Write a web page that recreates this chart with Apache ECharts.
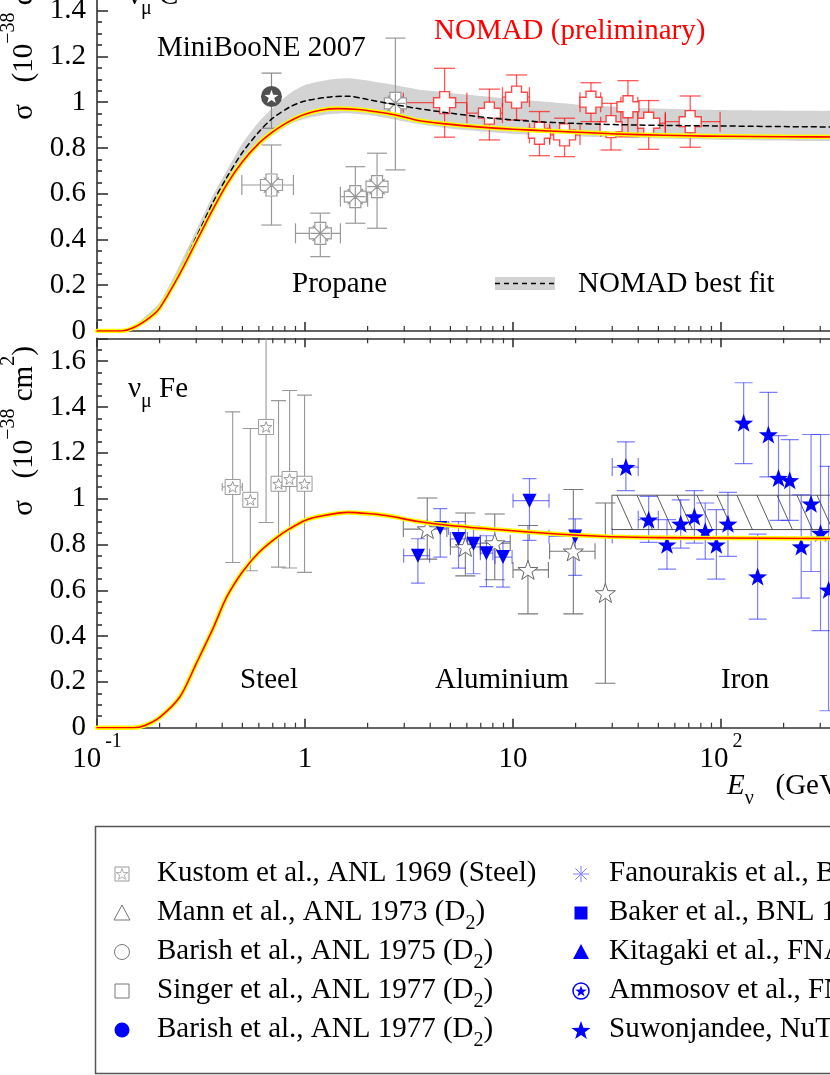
<!DOCTYPE html>
<html><head><meta charset="utf-8">
<script src="https://cdn.jsdelivr.net/npm/echarts@6/dist/echarts.min.js"></script>
<style>
html,body{margin:0;padding:0;overflow:hidden;background:#fff;width:830px;height:1075px}
#c{position:absolute;left:0;top:-60px;width:1000px;height:1135px}
</style></head><body><div id="c"></div>
<script>
// ================= DATA =================
const xTickExp  = [-1, 0, 1, 2, 3];
const xTickText = [['10','-1'], ['1',''], ['10',''], ['10','2'], ['10','3']];

// Carbon (top) theory curve
const theoryC_E = [0.1,0.13,0.15,0.18,0.2,0.25,0.3,0.36,0.42,0.5,0.6,0.7,0.8,0.9,1.0,1.2,1.45,1.8,2.2,2.7,3.5,5,7,10,15,25,40,70,100,200,400,1000];
const theoryC_S = [0,0,0.015,0.06,0.1,0.25,0.39,0.53,0.64,0.74,0.82,0.87,0.905,0.93,0.947,0.966,0.972,0.968,0.958,0.945,0.92,0.903,0.891,0.882,0.874,0.865,0.858,0.853,0.851,0.849,0.848,0.847];

// NOMAD best fit (dashed) and its band
const nomadFitE  = [0.1,0.13,0.15,0.2,0.25,0.3,0.36,0.42,0.5,0.6,0.7,0.85,1.0,1.3,1.6,2.0,2.5,3.5,5,8,12,20,40,100,300,1000];
const nomadFit   = [0,0,0.016,0.105,0.26,0.41,0.56,0.67,0.78,0.87,0.93,0.98,1.005,1.022,1.026,1.012,0.995,0.972,0.952,0.93,0.917,0.907,0.9,0.896,0.892,0.89];
const nomadBandHi= [0,0.003,0.022,0.125,0.29,0.44,0.59,0.70,0.82,0.915,0.975,1.04,1.075,1.098,1.105,1.095,1.08,1.055,1.04,1.022,1.008,0.99,0.975,0.966,0.962,0.96];
const nomadBandLo= [0,0,0.008,0.09,0.235,0.375,0.515,0.625,0.725,0.805,0.855,0.905,0.928,0.947,0.952,0.945,0.93,0.905,0.885,0.868,0.858,0.85,0.842,0.835,0.83,0.828];

// Iron (bottom) theory curve
const theoryFe_E = [0.1,0.15,0.17,0.2,0.25,0.3,0.36,0.42,0.5,0.6,0.73,0.85,1.0,1.2,1.6,2.0,2.5,3.5,5,8.7,15,26,50,100,300,1000];
const theoryFe_S = [0,0,0.01,0.045,0.134,0.28,0.43,0.57,0.68,0.765,0.83,0.87,0.905,0.924,0.94,0.935,0.925,0.9,0.883,0.864,0.848,0.836,0.83,0.828,0.826,0.825];

// rows: [E, sigma, sigmaLow, sigmaHigh, Elow, Ehigh]
const propane = [
  [0.69, 0.638, 0.463, 0.813, 0.497, 0.88],
  [1.185, 0.427, 0.325, 0.515, 0.9, 1.48],
  [1.746, 0.587, 0.471, 0.718, 1.48, 2.0],
  [2.22, 0.631, 0.449, 0.777],
  [2.72, 0.995, 0.704, 1.28]
];
const miniboone = [[0.69, 1.025, 0.886, 1.127]];
const nomad = [
  [4.69, 0.998, 0.847, 1.148, 2.97, 6.0],
  [7.7, 0.952, 0.835, 1.057, 6.0, 8.9],
  [10.4, 1.022, 0.922, 1.119, 8.9, 12.0],
  [13.4, 0.864, 0.766, 0.959, 12.0, 15.0],
  [17.7, 0.857, 0.762, 0.93, 15.0, 21.0],
  [23.7, 1.0, 0.915, 1.085, 21.0, 26.4],
  [29.6, 0.893, 0.791, 0.995, 26.4, 33.0],
  [35.7, 0.98, 0.849, 1.094, 33.0, 39.8],
  [44.9, 0.908, 0.794, 1.007, 39.8, 54.0],
  [71.1, 0.915, 0.803, 1.027, 54.0, 99.0]
];
const kustom = [
  [0.449, 1.051, 0.721, 1.379, 0.4, 0.5],
  [0.546, 0.995, 0.685, 1.306],
  [0.65, 1.313, 0.896, 1.73],
  [0.746, 1.065, 0.701, 1.428],
  [0.843, 1.086, 0.697, 1.472],
  [0.995, 1.065, 0.678, 1.452]
];
const alStars = [
  [3.87, 0.867, 0.736, 1.003, 2.97, 4.81],
  [5.9, 0.789, 0.663, 0.937, 5.0, 6.97],
  [8.17, 0.806, 0.646, 0.933, 6.97, 9.7],
  [11.8, 0.689, 0.497, 0.883, 10.0, 14.8],
  [19.5, 0.77, 0.497, 1.04, 15.0, 24.8],
  [27.8, 0.588, 0.194, 0.981]
];
const downTriangles = [
  [3.49, 0.751, 0.631, 0.825, 2.98, 3.97],
  [4.47, 0.872, 0.745, 0.956, 4.04, 4.9],
  [5.47, 0.824, 0.697, 0.9, 5.0, 6.04],
  [6.46, 0.803, 0.672, 0.879, 6.04, 6.97],
  [7.45, 0.762, 0.616, 0.838, 6.97, 8.0],
  [8.95, 0.745, 0.614, 0.813, 8.2, 9.9],
  [12.0, 0.991, 0.818, 1.087, 10.0, 14.9],
  [19.9, 0.835, 0.665, 0.912, 14.9, 30.0]
];
const blueStars = [
  [34.9, 1.138, 1.035, 1.248, 30.0, 40.0],
  [44.9, 0.908, 0.809, 1.01, 40.0, 50.0],
  [55, 0.799, 0.692, 0.908],
  [64, 0.89, 0.784, 0.995],
  [74.5, 0.922, 0.806, 1.035],
  [84, 0.857, 0.736, 0.981],
  [95, 0.799, 0.649, 0.952],
  [108, 0.89, 0.748, 1.027],
  [128.5, 1.331, 1.153, 1.506],
  [150, 0.66, 0.474, 0.845],
  [169, 1.28, 1.095, 1.464],
  [189, 1.09, 0.905, 1.275],
  [214, 1.08, 0.905, 1.258],
  [243, 0.791, 0.566, 1.017],
  [271, 0.978, 0.682, 1.28],
  [301, 0.85, 0.424, 1.28],
  [329, 0.602, 0.074, 1.141]
];
// hatched box: [Emin, Emax, sigmaMin, sigmaMax]
const hatchBox = [29.9, 400, 0.865, 1.015];

const legendCol1 = [['Kustom et al., ANL 1969 (Steel)', ''], ['Mann et al., ANL 1973 (D', '2'], ['Barish et al., ANL 1975 (D', '2'], ['Singer et al., ANL 1977 (D', '2'], ['Barish et al., ANL 1977 (D', '2']];
const legendCol2 = [['Fanourakis et al., BNL 1980 (D', '2'], ['Baker et al., BNL 1981 (D', '2'], ['Kitagaki et al., FNAL 1983 (D', '2'], ['Ammosov et al., FNAL 1988 (Ne', ''], ['Suwonjandee, NuTeV 2004 (Fe', '']];

// ================= HELPERS =================
const OFF = 60;
const FONT = '"Liberation Serif", "Times New Roman", serif';
const Y_MAX = 1.7;
const xMinorTicks = [];
for (let k = -1; k <= 2; k++) for (let m = 2; m <= 9; m++) xMinorTicks.push([m * Math.pow(10, k), 0]);

function starPath(R, r, cx, cy) {
  let s = '';
  for (let k = 0; k < 10; k++) {
    const a = -Math.PI / 2 + k * Math.PI / 5, rad = (k % 2) ? r : R;
    s += (k ? 'L' : 'M') + (cx + rad * Math.cos(a)).toFixed(3) + ',' + (cy + rad * Math.sin(a)).toFixed(3);
  }
  return s + 'Z';
}
function starPoints(cx, cy, R) {
  const p = [];
  for (let k = 0; k < 10; k++) {
    const a = -Math.PI / 2 + k * Math.PI / 5, rad = (k % 2) ? R * 0.4 : R;
    p.push([cx + rad * Math.cos(a), cy + rad * Math.sin(a)]);
  }
  return p;
}
const STAR = 'path://' + starPath(1, 0.4, 0, 0);
const SQSTAR = 'path://M-1,-1L1,-1L1,1L-1,1Z' + starPath(0.8, 0.33, 0, 0.08);
const PLUS = 'path://M-0.45,-1L0.45,-1L0.45,-0.45L1,-0.45L1,0.45L0.45,0.45L0.45,1L-0.45,1L-0.45,0.45L-1,0.45L-1,-0.45L-0.45,-0.45Z';
const PLUSAST = 'path://M-0.5,-1L0.5,-1L0.5,-0.5L1,-0.5L1,0.5L0.5,0.5L0.5,1L-0.5,1L-0.5,0.5L-1,0.5L-1,-0.5L-0.5,-0.5Z' +
  'M-0.7,-0.7L0.7,0.7M-0.7,0.7L0.7,-0.7M0,-0.9L0,0.9M-0.9,0L0.9,0';

function pairs(xs, ys) { return xs.map((x, i) => [x, ys[i]]); }

function errRender(color, capW, capH, lw) {
  return function (params, api) {
    const x = api.value(0), y = api.value(1);
    const ylo = api.value(2), yhi = api.value(3), xlo = api.value(4), xhi = api.value(5);
    const c = api.coord([x, y]);
    const st = { stroke: color, lineWidth: lw, fill: null };
    const ch = [];
    const L = (x1, y1, x2, y2) => ch.push({ type: 'line', shape: { x1, y1, x2, y2 }, style: st });
    if (yhi > ylo) {
      const a = api.coord([x, yhi]), b = api.coord([x, ylo]);
      L(c[0], a[1], c[0], b[1]);
      L(c[0] - capW / 2, a[1], c[0] + capW / 2, a[1]);
      L(c[0] - capW / 2, b[1], c[0] + capW / 2, b[1]);
    }
    if (xhi > xlo) {
      const a = api.coord([xlo, y]), b = api.coord([xhi, y]);
      L(a[0], c[1], b[0], c[1]);
      if (capH) {
        L(a[0], c[1] - capH / 2, a[0], c[1] + capH / 2);
        L(b[0], c[1] - capH / 2, b[0], c[1] + capH / 2);
      }
    }
    return { type: 'group', children: ch };
  };
}
function errSeries(grid, data, color, capW, capH, lw) {
  return { type: 'custom', xAxisIndex: grid === 0 ? 0 : 1, yAxisIndex: grid, clip: true,
    encode: { x: 0, y: 1 }, data: data, renderItem: errRender(color, capW, capH, lw), silent: true };
}
function markSeries(grid, data, symbol, size, fill, stroke, bw, extra) {
  return Object.assign({ type: 'scatter', xAxisIndex: grid === 0 ? 0 : 1, yAxisIndex: grid,
    encode: { x: 0, y: 1 }, data: data, symbol: symbol, symbolSize: size, symbolKeepAspect: true,
    itemStyle: { color: fill, borderColor: stroke, borderWidth: bw, opacity: 1 }, silent: true }, extra || {});
}
function bandSeries(grid, xs, lo, hi, color) {
  return { type: 'custom', xAxisIndex: grid === 0 ? 0 : 1, yAxisIndex: grid, clip: true, silent: true,
    data: [[1, 0.5]],
    renderItem: function (p, api) {
      const pts = [];
      for (let i = 0; i < xs.length; i++) pts.push(api.coord([xs[i], hi[i]]));
      for (let i = xs.length - 1; i >= 0; i--) pts.push(api.coord([xs[i], lo[i]]));
      return { type: 'polygon', shape: { points: pts, smooth: 0.2 }, style: { fill: color, stroke: null } };
    } };
}
function minorTickSeries(grid, top) {
  return { type: 'custom', xAxisIndex: grid === 0 ? 0 : 1, yAxisIndex: grid, silent: true, clip: false,
    data: xMinorTicks,
    renderItem: function (p, api) {
      const x = api.value(0);
      const b = api.coord([x, 0]), t = api.coord([x, Y_MAX]);
      const st = { stroke: '#333', lineWidth: 1.2 };
      const ch = [{ type: 'line', shape: { x1: b[0], y1: b[1], x2: b[0], y2: b[1] - 5 }, style: st }];
      if (top) ch.push({ type: 'line', shape: { x1: t[0], y1: t[1], x2: t[0], y2: t[1] + 5 }, style: st });
      return { type: 'group', children: ch };
    } };
}
function lineSeries(grid, data, color, width, dash) {
  return { type: 'line', xAxisIndex: grid === 0 ? 0 : 1, yAxisIndex: grid, data: data, showSymbol: false, symbol: 'none',
    smooth: 0.3, silent: true,
    lineStyle: { color: color, width: width, type: dash || 'solid', cap: 'round', join: 'round' } };
}

// ================= AXES =================
const axisLineStyle = { color: '#333', width: 1.6 };
function xAxisDef(grid, pos, labels) {
  return {
    type: 'log', logBase: 10, min: 0.1, max: 1000, gridIndex: grid, position: pos,
    axisLine: { show: true, onZero: false, lineStyle: axisLineStyle },
    axisTick: { show: true, inside: true, length: 9, lineStyle: axisLineStyle },
    minorTick: { show: false }, splitLine: { show: false },
    axisLabel: labels ? {
      show: true, margin: 4,
      formatter: function (v) {
        const e = Math.round(Math.log10(v)); const t = xTickText[xTickExp.indexOf(e)];
        if (!t) return '';
        return t[1] ? '{b|' + t[0] + '}{s|' + t[1] + '}' : '{b|' + t[0] + '}';
      },
      rich: {
        b: { fontFamily: FONT, fontSize: 29, color: '#000', padding: [13, 0, 0, 0] },
        s: { fontFamily: FONT, fontSize: 20, color: '#000', verticalAlign: 'top', padding: [0, 0, 0, 4] }
      }
    } : { show: false }
  };
}
function yAxisDef(grid) {
  return {
    type: 'value', gridIndex: grid, min: 0, max: Y_MAX, interval: 0.2,
    axisLine: { show: true, onZero: false, lineStyle: axisLineStyle },
    axisTick: { show: true, inside: true, length: 11, lineStyle: axisLineStyle },
    minorTick: { show: true, splitNumber: 4, length: 5, lineStyle: axisLineStyle },
    splitLine: { show: false },
    axisLabel: { show: true, margin: 11, showMaxLabel: false, fontFamily: FONT, fontSize: 29, color: '#000' }
  };
}

// ================= GRAPHICS (annotations, legend) =================
function txt(x, y, text, extra) {
  return { type: 'text', x: x, y: y + OFF, silent: true, z: 100,
    style: Object.assign({ text: text, fontFamily: FONT, fontSize: 29, fill: '#000', align: 'left', verticalAlign: 'middle' }, extra || {}) };
}
const richSub = {
  a: { fontFamily: FONT, fontSize: 29, fill: '#000', color: '#000', padding: [0, 0, 8, 0] },
  i: { fontFamily: FONT, fontSize: 29, fill: '#000', color: '#000', fontStyle: 'italic', padding: [0, 0, 8, 0] },
  s: { fontFamily: FONT, fontSize: 20, fill: '#000', color: '#000', verticalAlign: 'bottom' }
};
const richLeg = {
  a: { fontFamily: FONT, fontSize: 29, fill: '#000', color: '#000', padding: [0, 0, 7, 0] },
  s: { fontFamily: FONT, fontSize: 20, fill: '#000', color: '#000', verticalAlign: 'bottom' }
};
const richSup = {
  a: { fontFamily: FONT, fontSize: 29, fill: '#000', color: '#000', padding: [11, 0, 0, 0] },
  p: { fontFamily: FONT, fontSize: 20, fill: '#000', color: '#000', verticalAlign: 'top' }
};
const yTitle = '{a|σ   (10}{p|−38}{a| cm}{p|2}{a|)}';

const graphics = [
  txt(157, 48, 'MiniBooNE 2007'),
  txt(434, 31, 'NOMAD (preliminary)', { fill: '#ff0000' }),
  txt(292, 284, 'Propane'),
  { type: 'rect', x: 495, y: 277 + OFF, shape: { width: 60, height: 13 }, style: { fill: '#d3d3d3' }, z: 100 },
  { type: 'line', shape: { x1: 495, y1: 283.5 + OFF, x2: 555, y2: 283.5 + OFF }, style: { stroke: '#000', lineWidth: 1.5, lineDash: [5, 4] }, z: 101 },
  txt(578, 284, 'NOMAD best fit'),
  txt(240, 680, 'Steel'),
  txt(435, 680, 'Aluminium'),
  txt(721, 680, 'Iron'),
  txt(128, 393, '{a|ν}{s|μ}{a| Fe}', { rich: richSub }),
  txt(128, 0, '{a|ν}{s|μ}{a| C}', { rich: richSub }),
  txt(727, 790, '{i|E}{s|ν}{a|   (GeV)}', { rich: richSub }),
  Object.assign(txt(19, 431, yTitle, { rich: richSup, align: 'center' }), { rotation: Math.PI / 2 }),
  Object.assign(txt(19, 35, yTitle, { rich: richSup, align: 'center' }), { rotation: Math.PI / 2 }),
  { type: 'rect', x: 95.5, y: 826.5 + OFF, shape: { width: 1000, height: 247 }, style: { fill: 'none', stroke: '#555', lineWidth: 1.5 }, z: 100 }
];
const legRows = [874, 913, 952, 991, 1030];
const c1 = 122, c2 = 581;
legendCol1.forEach((e, i) => graphics.push(txt(157, legRows[i] + 3, e[1] ? '{a|' + e[0] + '}{s|' + e[1] + '}{a|)}' : '{a|' + e[0] + '}', { rich: richLeg })));
legendCol2.forEach((e, i) => graphics.push(txt(609, legRows[i] + 3, e[1] ? '{a|' + e[0] + '}{s|' + e[1] + '}{a|)}' : '{a|' + e[0] + ')}', { rich: richLeg })));
const gy = (i) => legRows[i] + OFF;
graphics.push(
  { type: 'rect', shape: { x: c1 - 7, y: gy(0) - 7, width: 14, height: 14 }, style: { fill: '#fff', stroke: '#999', lineWidth: 1 }, z: 100 },
  { type: 'polygon', shape: { points: starPoints(c1, gy(0) + 0.5, 6) }, style: { fill: 'none', stroke: '#999', lineWidth: 0.8 }, z: 101 },
  { type: 'polygon', shape: { points: [[c1, gy(1) - 8], [c1 + 8, gy(1) + 7], [c1 - 8, gy(1) + 7]] }, style: { fill: 'none', stroke: '#777', lineWidth: 1 }, z: 100 },
  { type: 'circle', shape: { cx: c1, cy: gy(2), r: 7.5 }, style: { fill: 'none', stroke: '#777', lineWidth: 1 }, z: 100 },
  { type: 'rect', shape: { x: c1 - 7, y: gy(3) - 7, width: 14, height: 14 }, style: { fill: 'none', stroke: '#777', lineWidth: 1 }, z: 100 },
  { type: 'circle', shape: { cx: c1, cy: gy(4), r: 7.5 }, style: { fill: '#0000ff' }, z: 100 },
  { type: 'group', z: 100, children: [0, 45, 90, 135].map(d => {
      const a = d * Math.PI / 180;
      return { type: 'line', shape: { x1: c2 - 8 * Math.cos(a), y1: gy(0) - 8 * Math.sin(a), x2: c2 + 8 * Math.cos(a), y2: gy(0) + 8 * Math.sin(a) }, style: { stroke: '#8080ff', lineWidth: 1 } };
    }) },
  { type: 'rect', shape: { x: c2 - 6.5, y: gy(1) - 6.5, width: 13, height: 13 }, style: { fill: '#0000ff' }, z: 100 },
  { type: 'polygon', shape: { points: [[c2, gy(2) - 8], [c2 + 8, gy(2) + 7], [c2 - 8, gy(2) + 7]] }, style: { fill: '#0000ff' }, z: 100 },
  { type: 'circle', shape: { cx: c2, cy: gy(3), r: 8 }, style: { fill: '#fff', stroke: '#0000ff', lineWidth: 1.5 }, z: 100 },
  { type: 'polygon', shape: { points: starPoints(c2, gy(3) + 0.5, 6) }, style: { fill: '#0000ff' }, z: 101 },
  { type: 'polygon', shape: { points: starPoints(c2, gy(4) + 1, 10) }, style: { fill: '#0000ff' }, z: 100 }
);

// ================= SERIES =================
const series = [
  // top panel
  bandSeries(0, nomadFitE, nomadBandLo, nomadBandHi, '#d3d3d3'),
  lineSeries(0, pairs(nomadFitE, nomadFit), '#000', 1.5, [5, 4]),
  lineSeries(0, pairs(theoryC_E, theoryC_S), '#ffff00', 4.5),
  lineSeries(0, pairs(theoryC_E, theoryC_S), '#ff0000', 1.6),
  minorTickSeries(0, false),
  errSeries(0, propane, '#999', 20, 20, 1.2),
  markSeries(0, propane, PLUSAST, 22, '#fff', '#999', 1.2),
  errSeries(0, miniboone, '#888', 20, 0, 1.2),
  markSeries(0, miniboone, 'circle', 21, '#505050', '#505050', 0),
  markSeries(0, miniboone, STAR, 14, '#fff', '#fff', 0),
  errSeries(0, nomad, 'rgba(255,0,0,0.65)', 21, 20, 1.3),
  markSeries(0, nomad, PLUS, 22, '#fff', 'rgba(255,30,30,0.8)', 1.4),
  // bottom panel
  lineSeries(1, pairs(theoryFe_E, theoryFe_S), '#ffff00', 4.5),
  lineSeries(1, pairs(theoryFe_E, theoryFe_S), '#ff0000', 1.6),
  minorTickSeries(1, true),
  { type: 'custom', xAxisIndex: 1, yAxisIndex: 1, clip: true, silent: true, data: [[1, 0.5]],
    renderItem: function (p, api) {
      const a = api.coord([hatchBox[0], hatchBox[3]]), b = api.coord([hatchBox[1], hatchBox[2]]);
      const x0 = a[0], y0 = a[1], x1 = b[0], y1 = b[1], h = y1 - y0, dx = 0.45 * h;
      const ch = [{ type: 'rect', shape: { x: x0, y: y0, width: x1 - x0, height: h }, style: { fill: 'none', stroke: '#555', lineWidth: 1 } }];
      for (let s = x0 + 5 - 20 * Math.ceil(dx / 20); s < x1; s += 20) {
        let xa = s, ya = y0, xb = s + dx, yb = y1;
        if (xa < x0) { ya = y0 + (x0 - s) / dx * h; xa = x0; }
        if (xb > x1) { yb = y0 + (x1 - s) / dx * h; xb = x1; }
        if (xb > xa) ch.push({ type: 'line', shape: { x1: xa, y1: ya, x2: xb, y2: yb }, style: { stroke: '#333', lineWidth: 0.8 } });
      }
      return { type: 'group', children: ch };
    } },
  errSeries(1, kustom, '#999', 15, 8, 1.1),
  markSeries(1, kustom, SQSTAR, 15, '#fff', '#999', 1),
  errSeries(1, alStars, '#777', 20, 16, 1.1),
  markSeries(1, alStars, STAR, 20, '#fff', '#666', 1),
  errSeries(1, downTriangles, 'rgba(40,40,255,0.6)', 14, 14, 1.2),
  markSeries(1, downTriangles, 'triangle', 14, '#0000ff', '#0000ff', 0, { symbolRotate: 180 }),
  errSeries(1, blueStars, 'rgba(40,40,255,0.6)', 18, 18, 1.2),
  markSeries(1, blueStars, STAR, 19, '#0000ff', '#0000ff', 0)
];

const chart = echarts.init(document.getElementById('c'), null, { renderer: 'canvas' });
chart.setOption({
  animation: false,
  backgroundColor: '#fff',
  grid: [
    { left: 97, width: 832, top: 2, height: 389 },
    { left: 97, width: 832, top: 398.3, height: 389.4 }
  ],
  xAxis: [xAxisDef(0, 'bottom', false), xAxisDef(1, 'bottom', true), xAxisDef(1, 'top', false)],
  yAxis: [yAxisDef(0), yAxisDef(1)],
  graphic: graphics,
  series: series
});
</script></body></html>
